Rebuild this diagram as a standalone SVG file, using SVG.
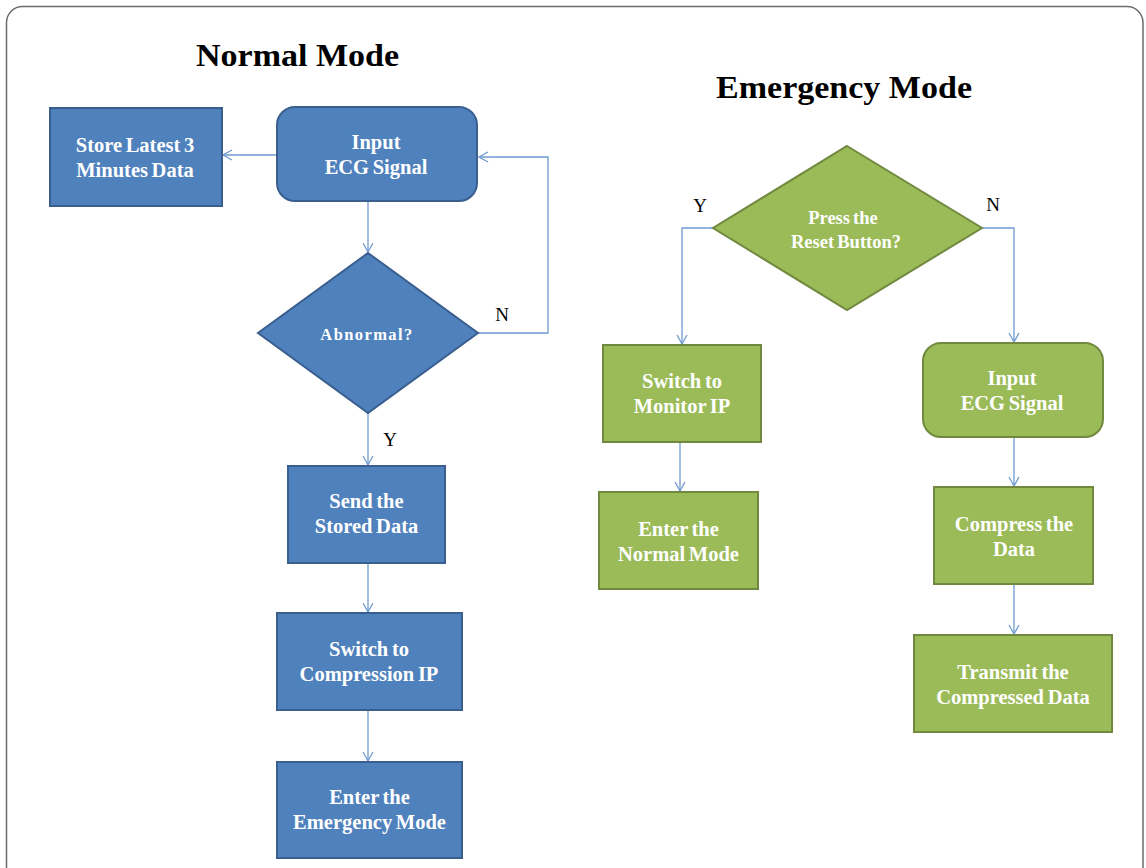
<svg xmlns="http://www.w3.org/2000/svg" width="1146" height="868" viewBox="0 0 1146 868">
<defs>
<marker id="arr" markerWidth="12" markerHeight="12" refX="10" refY="6" orient="auto" markerUnits="userSpaceOnUse">
<path d="M1,1 L10,6 L1,11" fill="none" stroke="#6F9AD0" stroke-width="1.3"/>
</marker>
</defs>
<style>
.title{font-family:"Liberation Serif","DejaVu Serif",serif;font-weight:bold;font-size:32px;fill:#000}
.blue{fill:#4F81BD;stroke:#3A5F8E;stroke-width:2}
.green{fill:#9BBB59;stroke:#71893F;stroke-width:2}
.t{font-family:"Liberation Serif","Times New Roman",serif;font-weight:bold;font-size:20.5px;fill:#fff;text-anchor:middle;word-spacing:-1.5px}
.lbl{font-family:"Liberation Serif","Times New Roman",serif;font-size:19px;fill:#000;text-anchor:middle}
.c{fill:none;stroke:#6F9AD0;stroke-width:1.3}
</style>
<rect x="0" y="0" width="1146" height="868" fill="#fff"/>
<rect x="6.5" y="6.5" width="1136.5" height="880" rx="16" fill="#fff" stroke="#6b6b6b" stroke-width="1.5"/>

<text class="title" x="297.5" y="66" text-anchor="middle" textLength="203" lengthAdjust="spacingAndGlyphs">Normal Mode</text>
<text class="title" x="844" y="98" text-anchor="middle" textLength="256" lengthAdjust="spacingAndGlyphs">Emergency Mode</text>

<g id="connectors">
<path class="c" d="M277,155 H223" marker-end="url(#arr)"/>
<path class="c" d="M368,201 V252" marker-end="url(#arr)"/>
<path class="c" d="M478,333 H548 V157 H479" marker-end="url(#arr)"/>
<path class="c" d="M368,413 V465" marker-end="url(#arr)"/>
<path class="c" d="M368,563 V612" marker-end="url(#arr)"/>
<path class="c" d="M368,710 V761" marker-end="url(#arr)"/>
<path class="c" d="M713,228 H682 V344" marker-end="url(#arr)"/>
<path class="c" d="M982,228 H1014 V342" marker-end="url(#arr)"/>
<path class="c" d="M680,442 V491" marker-end="url(#arr)"/>
<path class="c" d="M1014,437 V486" marker-end="url(#arr)"/>
<path class="c" d="M1014,584 V634" marker-end="url(#arr)"/>
<text class="lbl" x="502" y="321">N</text>
<text class="lbl" x="390" y="446">Y</text>
<text class="lbl" x="700" y="212">Y</text>
<text class="lbl" x="993" y="211">N</text>
</g>

<g id="store">
<rect class="blue" x="50" y="108" width="172" height="98"/>
<text class="t" x="135" y="152">Store Latest 3</text>
<text class="t" x="135" y="177">Minutes Data</text>
</g>
<g id="input1">
<rect class="blue" x="277" y="107" width="200" height="94" rx="18"/>
<text class="t" x="376" y="149">Input</text>
<text class="t" x="376" y="174">ECG Signal</text>
</g>
<g id="abnormal">
<polygon class="blue" points="368,253 478,333 368,413 258,333"/>
<text class="t" x="367" y="340" style="font-size:16.5px;letter-spacing:1.4px;word-spacing:0">Abnormal?</text>
</g>
<g id="send">
<rect class="blue" x="288" y="466" width="157" height="97"/>
<text class="t" x="366.5" y="508">Send the</text>
<text class="t" x="366.5" y="533">Stored Data</text>
</g>
<g id="switchc">
<rect class="blue" x="277" y="613" width="185" height="97"/>
<text class="t" x="369" y="656">Switch to</text>
<text class="t" x="369" y="681">Compression IP</text>
</g>
<g id="enterE">
<rect class="blue" x="277" y="762" width="185" height="96"/>
<text class="t" x="369.5" y="804">Enter the</text>
<text class="t" x="369.5" y="829">Emergency Mode</text>
</g>

<g id="reset">
<polygon class="green" points="847,146 982,228 847,310 713,228"/>
<text class="t" x="843" y="224" style="font-size:18.5px">Press the</text>
<text class="t" x="846" y="248" style="font-size:18.5px">Reset Button?</text>
</g>
<g id="switchm">
<rect class="green" x="603" y="345" width="158" height="97"/>
<text class="t" x="682" y="388">Switch to</text>
<text class="t" x="682" y="413">Monitor IP</text>
</g>
<g id="enterN">
<rect class="green" x="599" y="492" width="159" height="97"/>
<text class="t" x="678.5" y="536">Enter the</text>
<text class="t" x="678.5" y="561">Normal Mode</text>
</g>
<g id="input2">
<rect class="green" x="923" y="343" width="180" height="94" rx="18"/>
<text class="t" x="1012" y="385">Input</text>
<text class="t" x="1012" y="410">ECG Signal</text>
</g>
<g id="compress">
<rect class="green" x="934" y="487" width="159" height="97"/>
<text class="t" x="1014" y="531">Compress the</text>
<text class="t" x="1014" y="556">Data</text>
</g>
<g id="transmit">
<rect class="green" x="914" y="635" width="198" height="97"/>
<text class="t" x="1013" y="679">Transmit the</text>
<text class="t" x="1013" y="704">Compressed Data</text>
</g>
</svg>
